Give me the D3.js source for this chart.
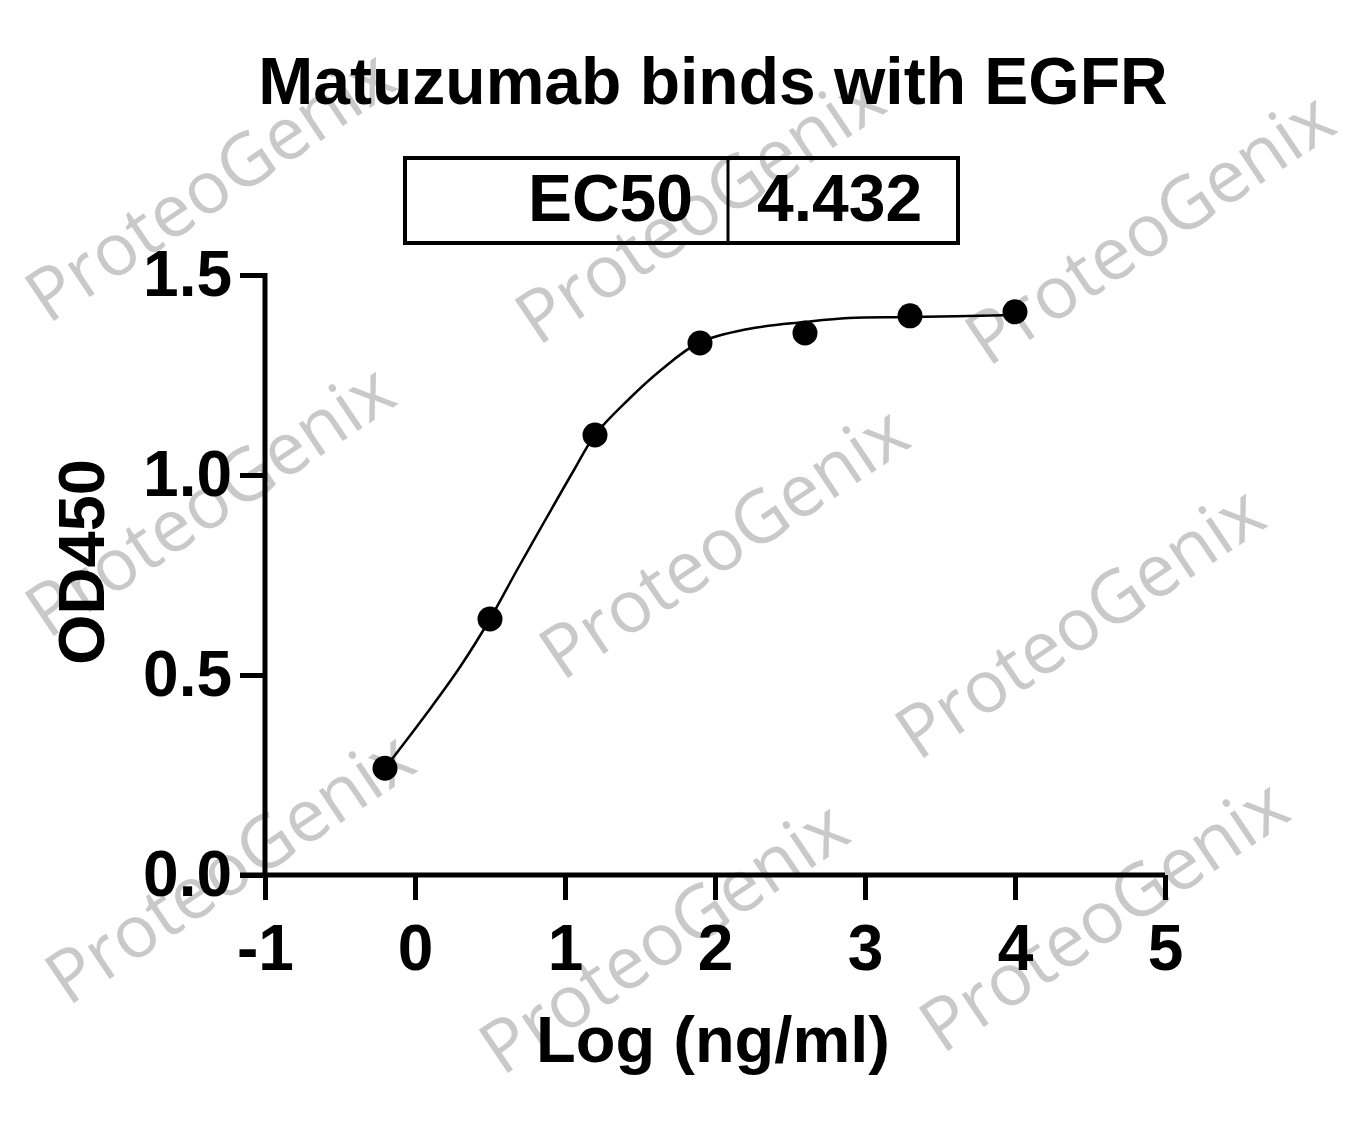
<!DOCTYPE html>
<html>
<head>
<meta charset="utf-8">
<script src="https://cdn.jsdelivr.net/npm/d3@7"></script>
<style>
  html, body { margin: 0; padding: 0; background: #fff; }
  svg { display: block; }
</style>
</head>
<body>
<svg id="chart" width="1363" height="1121"></svg>
<script>
// ---- data ----
const chartTitle = "Matuzumab binds with EGFR";
const xLabel = "Log (ng/ml)";
const yLabel = "OD450";
const ec50Label = "EC50";
const ec50Value = "4.432";

const logConc = [-0.2, 0.5, 1.2, 1.9, 2.6, 3.3, 4.0];
const od450   = [0.267, 0.64, 1.10, 1.33, 1.355, 1.398, 1.408];

// fitted curve, points
const fitX = [-0.2, 0.08, 0.3, 0.5, 0.68, 0.88, 1.06, 1.2, 1.42, 1.64, 1.89, 2.22, 2.6, 2.89, 3.3, 4.0];
const fitY = [0.267, 0.405, 0.52, 0.64, 0.7625, 0.895, 1.0125, 1.10, 1.1875, 1.2625, 1.33, 1.365, 1.3825, 1.3925, 1.395, 1.40];

const xTicks = [-1, 0, 1, 2, 3, 4, 5];
const xTickLabels = ["-1", "0", "1", "2", "3", "4", "5"];
const yTicks = [0, 0.5, 1.0, 1.5];
const yTickLabels = ["0.0", "0.5", "1.0", "1.5"];

const watermarkText = "ProteoGenix";
// baseline start points of each watermark copy (pixels)
const watermarkStarts = [[48,325],[538,347],[988,368],[48,640],[562,682],[918,762],[68,1007],[502,1077],[942,1055]];

// ---- drawing ----
const svg = d3.select("#chart");
const font = "'Liberation Sans', Arial, Helvetica, sans-serif";

const x = d3.scaleLinear().domain([-1, 5]).range([265, 1165]);
const y = d3.scaleLinear().domain([0, 1.5]).range([875, 275]);

// watermarks
const wm = svg.append("g");
watermarkStarts.forEach(([sx, sy]) => {
  wm.append("text")
    .attr("x", sx).attr("y", sy)
    .attr("transform", `rotate(-34,${sx},${sy})`)
    .attr("font-family", "'Open Sans', 'Noto Sans', sans-serif")
    .attr("font-size", 73)
    .attr("fill", "#c9c9c9")
    .text(watermarkText);
});

// title
svg.append("text")
  .attr("x", 713).attr("y", 104)
  .attr("text-anchor", "middle")
  .attr("font-family", font).attr("font-weight", "bold").attr("font-size", 66)
  .text(chartTitle);

// EC50 box
const box = svg.append("g");
box.append("rect").attr("x", 405).attr("y", 158).attr("width", 553).attr("height", 85)
  .attr("fill", "none").attr("stroke", "#000").attr("stroke-width", 4);
box.append("line").attr("x1", 728).attr("x2", 728).attr("y1", 158).attr("y2", 243)
  .attr("stroke", "#000").attr("stroke-width", 3);
box.append("text").attr("x", 693).attr("y", 221).attr("text-anchor", "end")
  .attr("font-family", font).attr("font-weight", "bold").attr("font-size", 66).text(ec50Label);
box.append("text").attr("x", 757).attr("y", 221).attr("text-anchor", "start")
  .attr("font-family", font).attr("font-weight", "bold").attr("font-size", 66).text(ec50Value);

// axes
const xAxis = d3.axisBottom(x).tickValues(xTicks).tickSize(25).tickPadding(25)
  .tickSizeOuter(0).tickFormat((d, i) => xTickLabels[i]);
const gx = svg.append("g").attr("transform", "translate(0,875)").call(xAxis);
gx.select(".domain").attr("d", "M240,0H1165");

const yAxis = d3.axisLeft(y).tickValues(yTicks).tickSize(25).tickPadding(8)
  .tickSizeOuter(0).tickFormat((d, i) => yTickLabels[i]);
const gy = svg.append("g").attr("transform", "translate(265,0)").call(yAxis);
gy.select(".domain").attr("d", "M0,273V877");

[gx, gy].forEach(g => {
  g.selectAll(".tick line").style("stroke", "#000").style("stroke-width", "5px");
  g.selectAll(".domain").style("stroke", "#000").style("stroke-width", "5px");
  g.selectAll(".tick text").style("fill", "#000")
    .style("font-family", font).style("font-weight", "bold").style("font-size", "64px");
});

// axis titles
svg.append("text")
  .attr("x", 713).attr("y", 1062).attr("text-anchor", "middle")
  .attr("font-family", font).attr("font-weight", "bold").attr("font-size", 65)
  .text(xLabel);
svg.append("text")
  .attr("transform", "translate(104,562) rotate(-90)").attr("text-anchor", "middle")
  .attr("font-family", font).attr("font-weight", "bold").attr("font-size", 65)
  .text(yLabel);

// fitted curve
const curveData = fitX.map((d, i) => [d, fitY[i]]);
svg.append("path")
  .datum(curveData)
  .attr("fill", "none").attr("stroke", "#000").attr("stroke-width", 2.5)
  .attr("d", d3.line().x(d => x(d[0])).y(d => y(d[1])).curve(d3.curveCatmullRom.alpha(0.5)));

// points
svg.append("g").selectAll("circle")
  .data(logConc.map((d, i) => [d, od450[i]]))
  .join("circle")
  .attr("cx", d => x(d[0])).attr("cy", d => y(d[1])).attr("r", 12.5)
  .attr("fill", "#000");
</script>
</body>
</html>
